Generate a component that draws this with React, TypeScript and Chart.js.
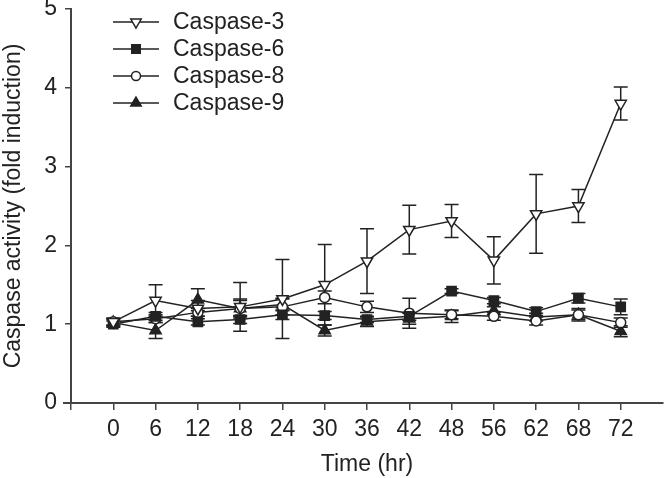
import React, { useEffect, useRef } from 'react';
import { Chart, registerables } from 'chart.js';
import { drawPoint } from 'chart.js/helpers';

Chart.register(...registerables);

// Sampling times (hours)
const timeLabels = ['0', '6', '12', '18', '24', '30', '36', '42', '48', '56', '62', '68', '72'];

// Fold induction of each caspase, with its error (±)
const casp3 = [1.03, 1.3, 1.2, 1.22, 1.32, 1.5, 1.8, 2.2, 2.31, 1.81, 2.4, 2.5, 3.8];
const casp3Err = [0.05, 0.2, 0.1, 0.31, 0.5, 0.51, 0.41, 0.31, 0.21, 0.3, 0.5, 0.21, 0.21];

const casp6 = [1.0, 1.1, 1.03, 1.06, 1.12, 1.11, 1.06, 1.1, 1.42, 1.3, 1.16, 1.33, 1.22];
const casp6Err = [0.04, 0.05, 0.04, 0.05, 0.06, 0.05, 0.04, 0.05, 0.03, 0.04, 0.05, 0.06, 0.1];

const casp8 = [1.03, 1.07, 1.15, 1.2, 1.22, 1.34, 1.22, 1.14, 1.12, 1.1, 1.04, 1.12, 1.02];
const casp8Err = [0.04, 0.05, 0.05, 0.12, 0.1, 0.08, 0.07, 0.19, 0.05, 0.05, 0.05, 0.06, 0.06];

const casp9 = [1.02, 0.92, 1.31, 1.2, 1.25, 0.92, 1.03, 1.07, 1.1, 1.17, 1.09, 1.12, 0.91];
const casp9Err = [0.04, 0.1, 0.14, 0.1, 0.08, 0.07, 0.06, 0.07, 0.08, 0.05, 0.05, 0.08, 0.07];

const yTicks = [0, 1, 2, 3, 4, 5];

const INK = '#222222';
const AXIS = '#444444';
const FONT = "'Liberation Sans', Arial, Helvetica, sans-serif";

type Series = {
  name: string;
  values: number[];
  err: number[];
  pointStyle: 'triangle' | 'rect' | 'circle';
  rotation: number;
  fill: string;
  radius: number;
};

const series: Series[] = [
  { name: 'Caspase-3', values: casp3, err: casp3Err, pointStyle: 'triangle', rotation: 180, fill: '#ffffff', radius: 6.5 },
  { name: 'Caspase-6', values: casp6, err: casp6Err, pointStyle: 'rect', rotation: 0, fill: INK, radius: 6.5 },
  { name: 'Caspase-8', values: casp8, err: casp8Err, pointStyle: 'circle', rotation: 0, fill: '#ffffff', radius: 5 },
  { name: 'Caspase-9', values: casp9, err: casp9Err, pointStyle: 'triangle', rotation: 0, fill: INK, radius: 6.5 },
];

// Vertical error bars with caps, drawn beneath the markers
const errorBarsPlugin = {
  id: 'errorBars',
  beforeDatasetsDraw(chart: any) {
    const { ctx, scales } = chart;
    const x = scales.x;
    const y = scales.y;
    ctx.save();
    ctx.strokeStyle = INK;
    ctx.lineWidth = 1.5;
    series.forEach((s) => {
      s.values.forEach((v, i) => {
        const px = x.getPixelForValue(i);
        const top = y.getPixelForValue(v + s.err[i]);
        const bot = y.getPixelForValue(v - s.err[i]);
        ctx.beginPath();
        ctx.moveTo(px, top);
        ctx.lineTo(px, bot);
        ctx.moveTo(px - 7, top);
        ctx.lineTo(px + 7, top);
        ctx.moveTo(px - 7, bot);
        ctx.lineTo(px + 7, bot);
        ctx.stroke();
      });
    });
    // short overshoot of the time axis to the left of the value axis
    const area = chart.chartArea;
    ctx.strokeStyle = AXIS;
    ctx.lineWidth = 2;
    ctx.beginPath();
    ctx.moveTo(area.left - 8, area.bottom);
    ctx.lineTo(area.left, area.bottom);
    ctx.stroke();
    ctx.restore();
  },
};

// Legend: short line with the series marker in its middle, then the name
const legendPlugin = {
  id: 'caspaseLegend',
  afterDraw(chart: any) {
    const { ctx } = chart;
    const x0 = 113;
    const x1 = 159;
    const textX = 173;
    const rows = [22, 49, 76, 103];
    ctx.save();
    series.forEach((s, k) => {
      const yy = rows[k];
      ctx.strokeStyle = INK;
      ctx.lineWidth = 1.5;
      ctx.beginPath();
      ctx.moveTo(x0, yy);
      ctx.lineTo(x1, yy);
      ctx.stroke();
      ctx.fillStyle = s.fill;
      ctx.strokeStyle = INK;
      ctx.lineWidth = 1.5;
      drawPoint(ctx, { pointStyle: s.pointStyle, rotation: s.rotation, radius: s.radius - 0.5, borderWidth: 1.5 } as any, (x0 + x1) / 2, yy);
      ctx.fillStyle = INK;
      ctx.font = `23px ${FONT}`;
      ctx.textBaseline = 'middle';
      ctx.textAlign = 'left';
      ctx.fillText(s.name, textX, yy + 1);
    });
    ctx.restore();
  },
};

export default function App() {
  const canvasRef = useRef<HTMLCanvasElement | null>(null);

  useEffect(() => {
    const canvas = canvasRef.current;
    if (!canvas) return;

    const chart = new Chart(canvas, {
      type: 'line',
      data: {
        datasets: series.map((s) => ({
          label: s.name,
          data: s.values.map((v, i) => ({ x: i, y: v })),
          borderColor: INK,
          borderWidth: 1.5,
          backgroundColor: s.fill,
          pointBackgroundColor: s.fill,
          pointBorderColor: INK,
          pointBorderWidth: 1.5,
          pointStyle: s.pointStyle,
          pointRotation: s.rotation,
          pointRadius: s.radius,
          tension: 0,
          fill: false,
        })),
      },
      options: {
        animation: false,
        responsive: true,
        maintainAspectRatio: false,
        layout: { padding: { top: 9, right: 3, left: 0, bottom: 0 } },
        plugins: {
          legend: { display: false },
          tooltip: { enabled: false },
        },
        scales: {
          x: {
            type: 'linear',
            min: -1,
            max: 13,
            afterFit(scale: any) {
              scale.height = 75;
              scale.paddingLeft = 0;
              scale.paddingRight = 0;
            },
            afterBuildTicks(scale: any) {
              // a tick at the origin plus one per sampling time
              scale.ticks = Array.from({ length: timeLabels.length + 1 }, (_, k) => ({ value: k - 1 }));
            },
            ticks: {
              autoSkip: false,
              maxRotation: 0,
              padding: 6,
              color: INK,
              font: { family: FONT, size: 23 },
              callback: (v: any) => {
                const i = Number(v);
                return i >= 0 && i < timeLabels.length ? timeLabels[i] : '';
              },
            },
            grid: {
              drawOnChartArea: false,
              drawTicks: true,
              tickLength: 7,
              color: AXIS,
              lineWidth: 1.5,
            },
            border: { display: true, color: AXIS, width: 2 },
            title: {
              display: true,
              text: 'Time (hr)',
              color: INK,
              font: { family: FONT, size: 23 },
              padding: { top: 0, bottom: 0 },
            },
          },
          y: {
            type: 'linear',
            min: 0,
            max: 5,
            afterFit(scale: any) {
              scale.width = 71;
              scale.paddingTop = 0;
              scale.paddingBottom = 0;
            },
            afterBuildTicks(scale: any) {
              scale.ticks = yTicks.map((v) => ({ value: v }));
            },
            ticks: {
              padding: 8,
              color: INK,
              font: { family: FONT, size: 23 },
              callback: (v: any) => String(v),
            },
            grid: {
              drawOnChartArea: false,
              drawTicks: true,
              tickLength: 6,
              color: AXIS,
              lineWidth: 1.5,
            },
            border: { display: true, color: AXIS, width: 2 },
            title: {
              display: true,
              text: 'Caspase activity (fold induction)',
              color: INK,
              font: { family: FONT, size: 23 },
              padding: { top: 0, bottom: 0 },
            },
          },
        },
      } as any,
      plugins: [errorBarsPlugin, legendPlugin],
    });

    return () => chart.destroy();
  }, []);

  return (
    <div style={{ position: 'fixed', left: 0, top: 0, width: 671, height: 478, background: '#ffffff' }}>
      <canvas ref={canvasRef} />
    </div>
  );
}
